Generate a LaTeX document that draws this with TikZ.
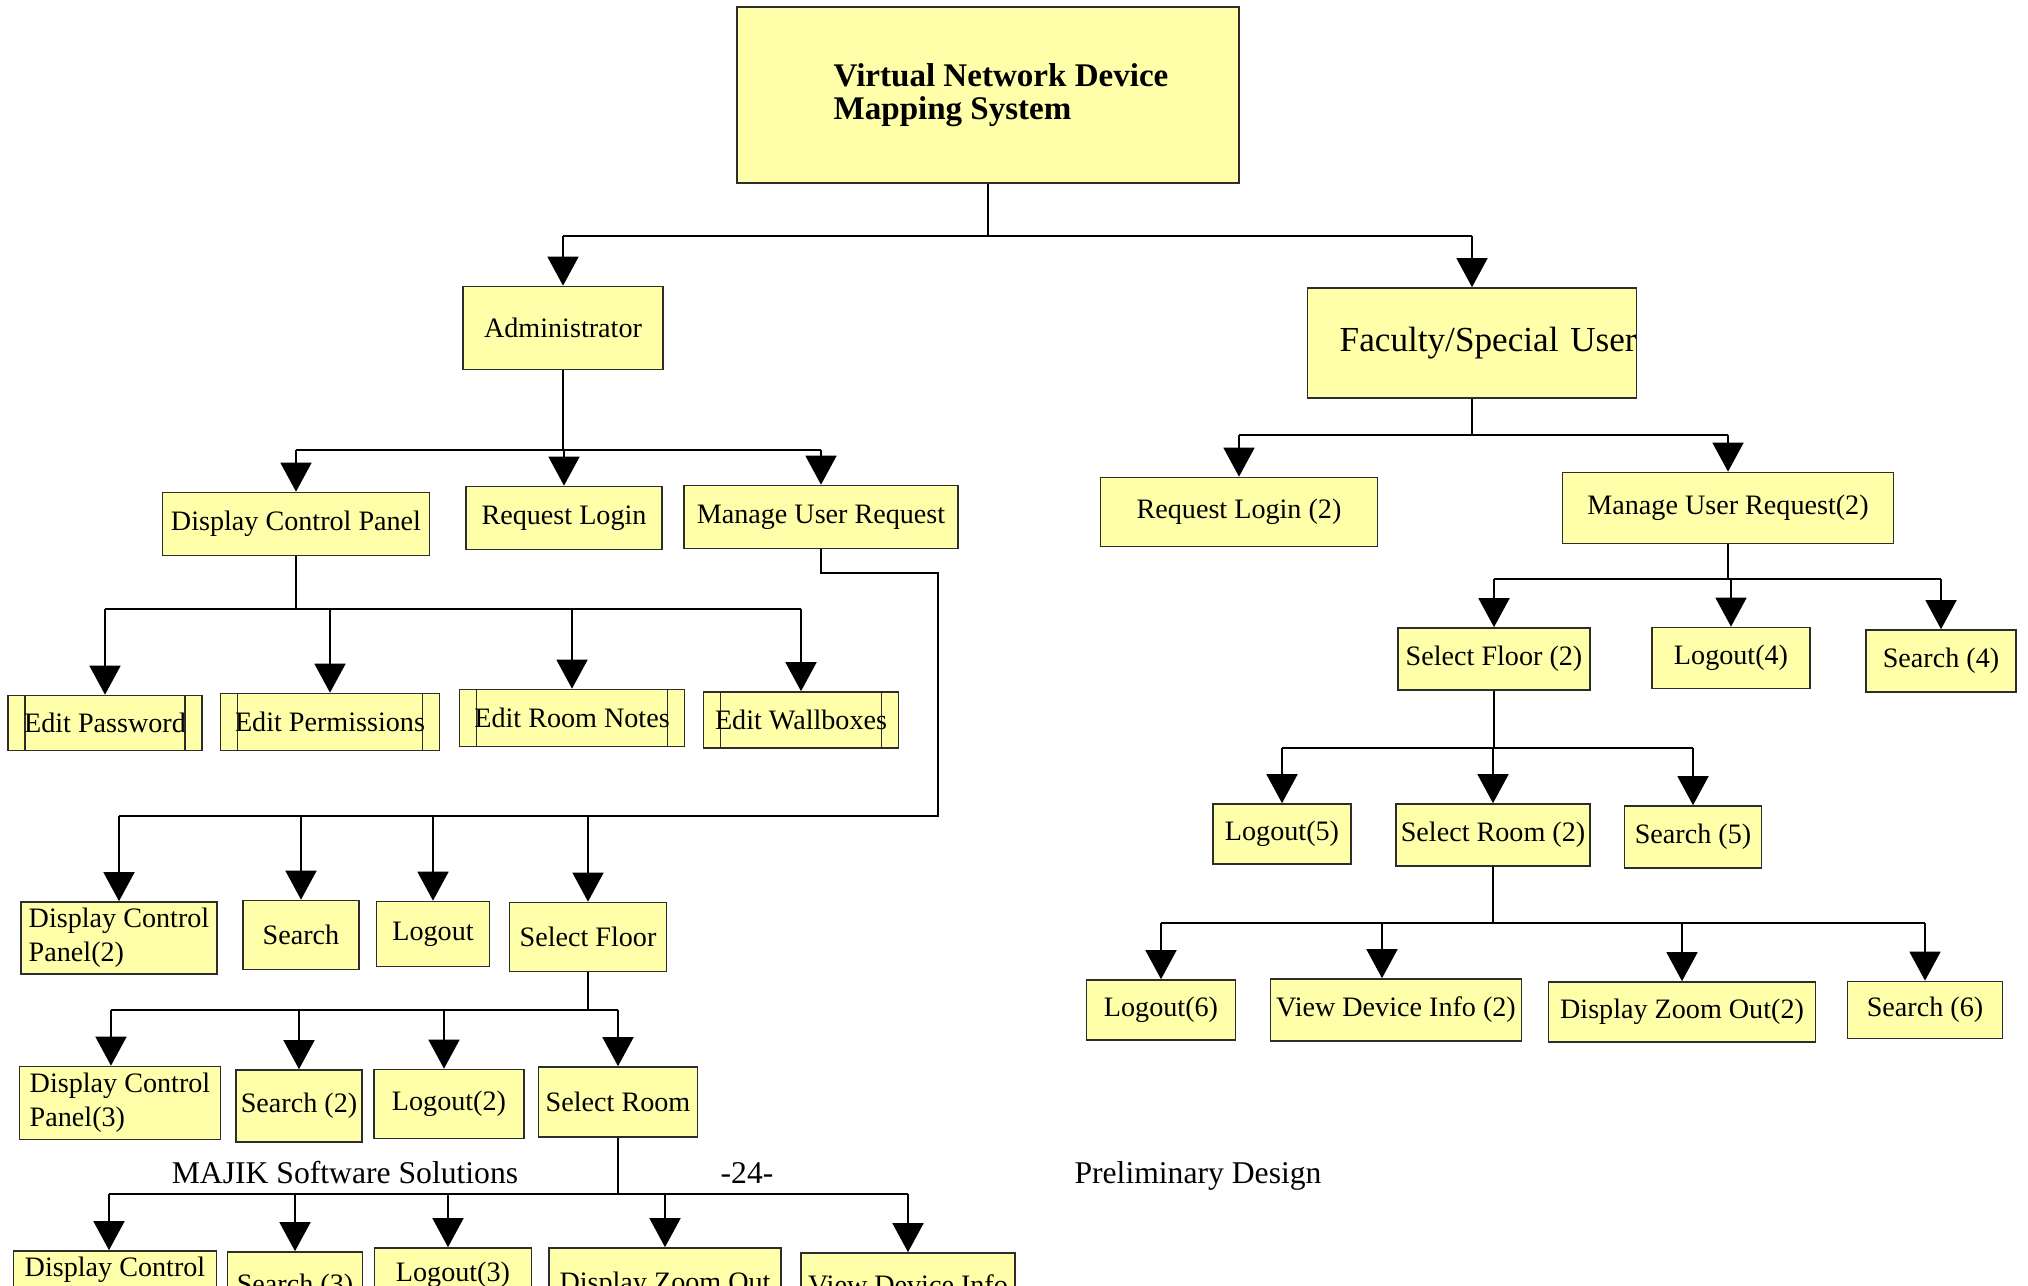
\documentclass[tikz,border=0pt]{standalone}
\usepackage{fontspec}
\setmainfont{Liberation Serif}
\usepackage{tikz}
\usetikzlibrary{arrows.meta,positioning,calc}
\definecolor{MAJIK_yellow}{RGB}{255,255,170}
\definecolor{MAJIK_line}{RGB}{45,45,45}

\begin{document}
\begin{tikzpicture}[x=0.01cm,y=-0.01cm,
    blk/.style={draw=MAJIK_line, line width=0.45pt, fill=MAJIK_yellow, inner sep=0pt,
      font=\fontsize{8}{9.7}\selectfont},
    edit/.style={blk, path picture={
      \draw[MAJIK_line, line width=0.4pt]
        ([xshift=0.17cm]path picture bounding box.north west) -- ([xshift=0.17cm]path picture bounding box.south west)
        ([xshift=-0.17cm]path picture bounding box.north east) -- ([xshift=-0.17cm]path picture bounding box.south east);}},
    foot/.style={inner sep=0pt, font=\fontsize{9}{11}\selectfont},
    wire/.style={line width=0.45pt},
    arr/.style={wire, -{Triangle[width=3.1mm,length=2.9mm]}}]
        \useasboundingbox (0,0) rectangle (2028,1286);
        \clip (0,0) rectangle (2028,1286);
        % Top box
        \node[blk, minimum width=5.02cm, minimum height=1.76cm, align=left,
          font=\fontsize{9.4}{9.4}\selectfont\bfseries] (sys) at (988,95)
          {\hspace*{0.26cm}Virtual Network Device\\\hspace*{0.26cm}Mapping System};
        \node[blk, minimum width=2.00cm, minimum height=0.83cm] (adm) at (563,328) {Administrator};
        \node[blk, minimum width=3.29cm, minimum height=1.10cm, text width=3.29cm, align=right,
          font=\fontsize{10}{12}\selectfont] (fac) at (1472,343) {Faculty/Special User};
        % Administrator side
        \node[blk, minimum width=2.67cm, minimum height=0.63cm] (dcp) at (296,524) {Display Control Panel};
        \node[blk, minimum width=1.96cm, minimum height=0.63cm] (rql) at (564,518) {Request Login};
        \node[blk, minimum width=2.74cm, minimum height=0.63cm] (mur) at (821,517) {Manage User Request};
        \node[edit, minimum width=1.94cm, minimum height=0.55cm] (edpw) at (105,723) {Edit Password};
        \node[edit, minimum width=2.19cm, minimum height=0.57cm] (edpm) at (330,722) {Edit Permissions};
        \node[edit, minimum width=2.25cm, minimum height=0.57cm] (edrn) at (572,718) {Edit Room Notes};
        \node[edit, minimum width=1.95cm, minimum height=0.56cm] (edwb) at (801,720) {Edit Wallboxes};
        \node[blk, minimum width=1.96cm, minimum height=0.72cm, align=left] (dcpb) at (119,938) {Display Control\\Panel(2)};
        \node[blk, minimum width=1.16cm, minimum height=0.69cm] (srch) at (301,935) {Search};
        \node[blk, minimum width=1.13cm, minimum height=0.65cm] (lgo) at (433,934) {Logout};
        \node[blk, minimum width=1.57cm, minimum height=0.69cm] (sfl) at (588,937) {Select Floor};
        \node[blk, minimum width=2.01cm, minimum height=0.73cm, align=left] (dcpc) at (120,1103) {Display Control\\Panel(3)};
        \node[blk, minimum width=1.26cm, minimum height=0.72cm] (srchb) at (299,1106) {Search (2)};
        \node[blk, minimum width=1.50cm, minimum height=0.69cm] (lgob) at (449,1104) {Logout(2)};
        \node[blk, minimum width=1.59cm, minimum height=0.70cm] (srm) at (618,1102) {Select Room};
        \node[blk, minimum width=2.03cm, minimum height=0.38cm] (dcpd) at (115,1270) {Display Control};
        \node[blk, minimum width=1.35cm, minimum height=0.70cm] (srchc) at (295,1287) {Search (3)};
        \node[blk, minimum width=1.57cm, minimum height=0.54cm] (lgoc) at (453,1275) {Logout(3)};
        \node[blk, minimum width=2.32cm, minimum height=0.74cm] (dzo) at (665,1285) {Display Zoom Out};
        \node[blk, minimum width=2.14cm, minimum height=0.64cm] (vdi) at (908,1285) {View Device Info};
        % Faculty side
        \node[blk, minimum width=2.77cm, minimum height=0.69cm] (rqlb) at (1239,512) {Request Login (2)};
        \node[blk, minimum width=3.31cm, minimum height=0.71cm] (murb) at (1728,508) {Manage User Request(2)};
        \node[blk, minimum width=1.92cm, minimum height=0.62cm] (sflb) at (1494,659) {Select Floor (2)};
        \node[blk, minimum width=1.58cm, minimum height=0.61cm] (lgod) at (1731,658) {Logout(4)};
        \node[blk, minimum width=1.50cm, minimum height=0.62cm] (srchd) at (1941,661) {Search (4)};
        \node[blk, minimum width=1.38cm, minimum height=0.60cm] (lgoe) at (1282,834) {Logout(5)};
        \node[blk, minimum width=1.94cm, minimum height=0.62cm] (srmb) at (1493,835) {Select Room (2)};
        \node[blk, minimum width=1.37cm, minimum height=0.62cm] (srche) at (1693,837) {Search (5)};
        \node[blk, minimum width=1.49cm, minimum height=0.60cm] (lgof) at (1161,1010) {Logout(6)};
        \node[blk, minimum width=2.51cm, minimum height=0.62cm] (vdib) at (1396,1010) {View Device Info (2)};
        \node[blk, minimum width=2.67cm, minimum height=0.60cm] (dzob) at (1682,1012) {Display Zoom Out(2)};
        \node[blk, minimum width=1.55cm, minimum height=0.57cm] (srchf) at (1925,1010) {Search (6)};
        % Footer
        \node[foot, anchor=base] (majik) at (345,1183) {MAJIK Software Solutions};
        \node[foot, anchor=base] (page) at (747,1183) {-24-};
        \node[foot, anchor=base] (prelim) at (1198,1183) {Preliminary Design};
        % Bus levels
        \coordinate (busA) at (0,236);
        \coordinate (busB) at (0,450);
        \coordinate (busC) at (0,609);
        \coordinate (murR) at (938,573);
        \coordinate (busD) at (938,816);
        \coordinate (busE) at (0,1010);
        \coordinate (busF) at (0,1194);
        \coordinate (busG) at (0,435);
        \coordinate (busH) at (0,579);
        \coordinate (busI) at (0,748);
        \coordinate (busJ) at (0,923);
        % Draw edges
        \draw[wire] (sys.south) -- (sys.south |- busA);
        \draw[wire] (adm.north |- busA) -- (fac.north |- busA);
        \draw[arr] (adm.north |- busA) -- (adm.north);
        \draw[arr] (fac.north |- busA) -- (fac.north);
        \draw[wire] (adm.south) -- (adm.south |- busB);
        \draw[wire] (dcp.north |- busB) -- (mur.north |- busB);
        \draw[arr] (dcp.north |- busB) -- (dcp.north);
        \draw[arr] (rql.north |- busB) -- (rql.north);
        \draw[arr] (mur.north |- busB) -- (mur.north);
        \draw[wire] (dcp.south) -- (dcp.south |- busC);
        \draw[wire] (edpw.north |- busC) -- (edwb.north |- busC);
        \draw[arr] (edpw.north |- busC) -- (edpw.north);
        \draw[arr] (edpm.north |- busC) -- (edpm.north);
        \draw[arr] (edrn.north |- busC) -- (edrn.north);
        \draw[arr] (edwb.north |- busC) -- (edwb.north);
        \draw[wire] (mur.south) |- (murR) -- (busD) -- (dcpb.north |- busD);
        \draw[arr] (dcpb.north |- busD) -- (dcpb.north);
        \draw[arr] (srch.north |- busD) -- (srch.north);
        \draw[arr] (lgo.north |- busD) -- (lgo.north);
        \draw[arr] (sfl.north |- busD) -- (sfl.north);
        \draw[wire] (sfl.south) -- (sfl.south |- busE);
        \draw[wire] ([xshift=-0.09cm]dcpc.north |- busE) -- (srm.north |- busE);
        \draw[arr] ([xshift=-0.09cm]dcpc.north |- busE) -- ([xshift=-0.09cm]dcpc.north);
        \draw[arr] (srchb.north |- busE) -- (srchb.north);
        \draw[arr] ([xshift=-0.05cm]lgob.north |- busE) -- ([xshift=-0.05cm]lgob.north);
        \draw[arr] (srm.north |- busE) -- (srm.north);
        \draw[wire] (srm.south) -- (srm.south |- busF);
        \draw[wire] ([xshift=-0.06cm]dcpd.north |- busF) -- (vdi.north |- busF);
        \draw[arr] ([xshift=-0.06cm]dcpd.north |- busF) -- ([xshift=-0.06cm]dcpd.north);
        \draw[arr] (srchc.north |- busF) -- (srchc.north);
        \draw[arr] ([xshift=-0.05cm]lgoc.north |- busF) -- ([xshift=-0.05cm]lgoc.north);
        \draw[arr] (dzo.north |- busF) -- (dzo.north);
        \draw[arr] (vdi.north |- busF) -- (vdi.north);
        \draw[wire] (fac.south) -- (fac.south |- busG);
        \draw[wire] (rqlb.north |- busG) -- (murb.north |- busG);
        \draw[arr] (rqlb.north |- busG) -- (rqlb.north);
        \draw[arr] (murb.north |- busG) -- (murb.north);
        \draw[wire] (murb.south) -- (murb.south |- busH);
        \draw[wire] (sflb.north |- busH) -- (srchd.north |- busH);
        \draw[arr] (sflb.north |- busH) -- (sflb.north);
        \draw[arr] (lgod.north |- busH) -- (lgod.north);
        \draw[arr] (srchd.north |- busH) -- (srchd.north);
        \draw[wire] (sflb.south) -- (sflb.south |- busI);
        \draw[wire] (lgoe.north |- busI) -- (srche.north |- busI);
        \draw[arr] (lgoe.north |- busI) -- (lgoe.north);
        \draw[arr] (srmb.north |- busI) -- (srmb.north);
        \draw[arr] (srche.north |- busI) -- (srche.north);
        \draw[wire] (srmb.south) -- (srmb.south |- busJ);
        \draw[wire] (lgof.north |- busJ) -- (srchf.north |- busJ);
        \draw[arr] (lgof.north |- busJ) -- (lgof.north);
        \draw[arr] ([xshift=-0.14cm]vdib.north |- busJ) -- ([xshift=-0.14cm]vdib.north);
        \draw[arr] (dzob.north |- busJ) -- (dzob.north);
        \draw[arr] (srchf.north |- busJ) -- (srchf.north);
\end{tikzpicture}
\end{document}
